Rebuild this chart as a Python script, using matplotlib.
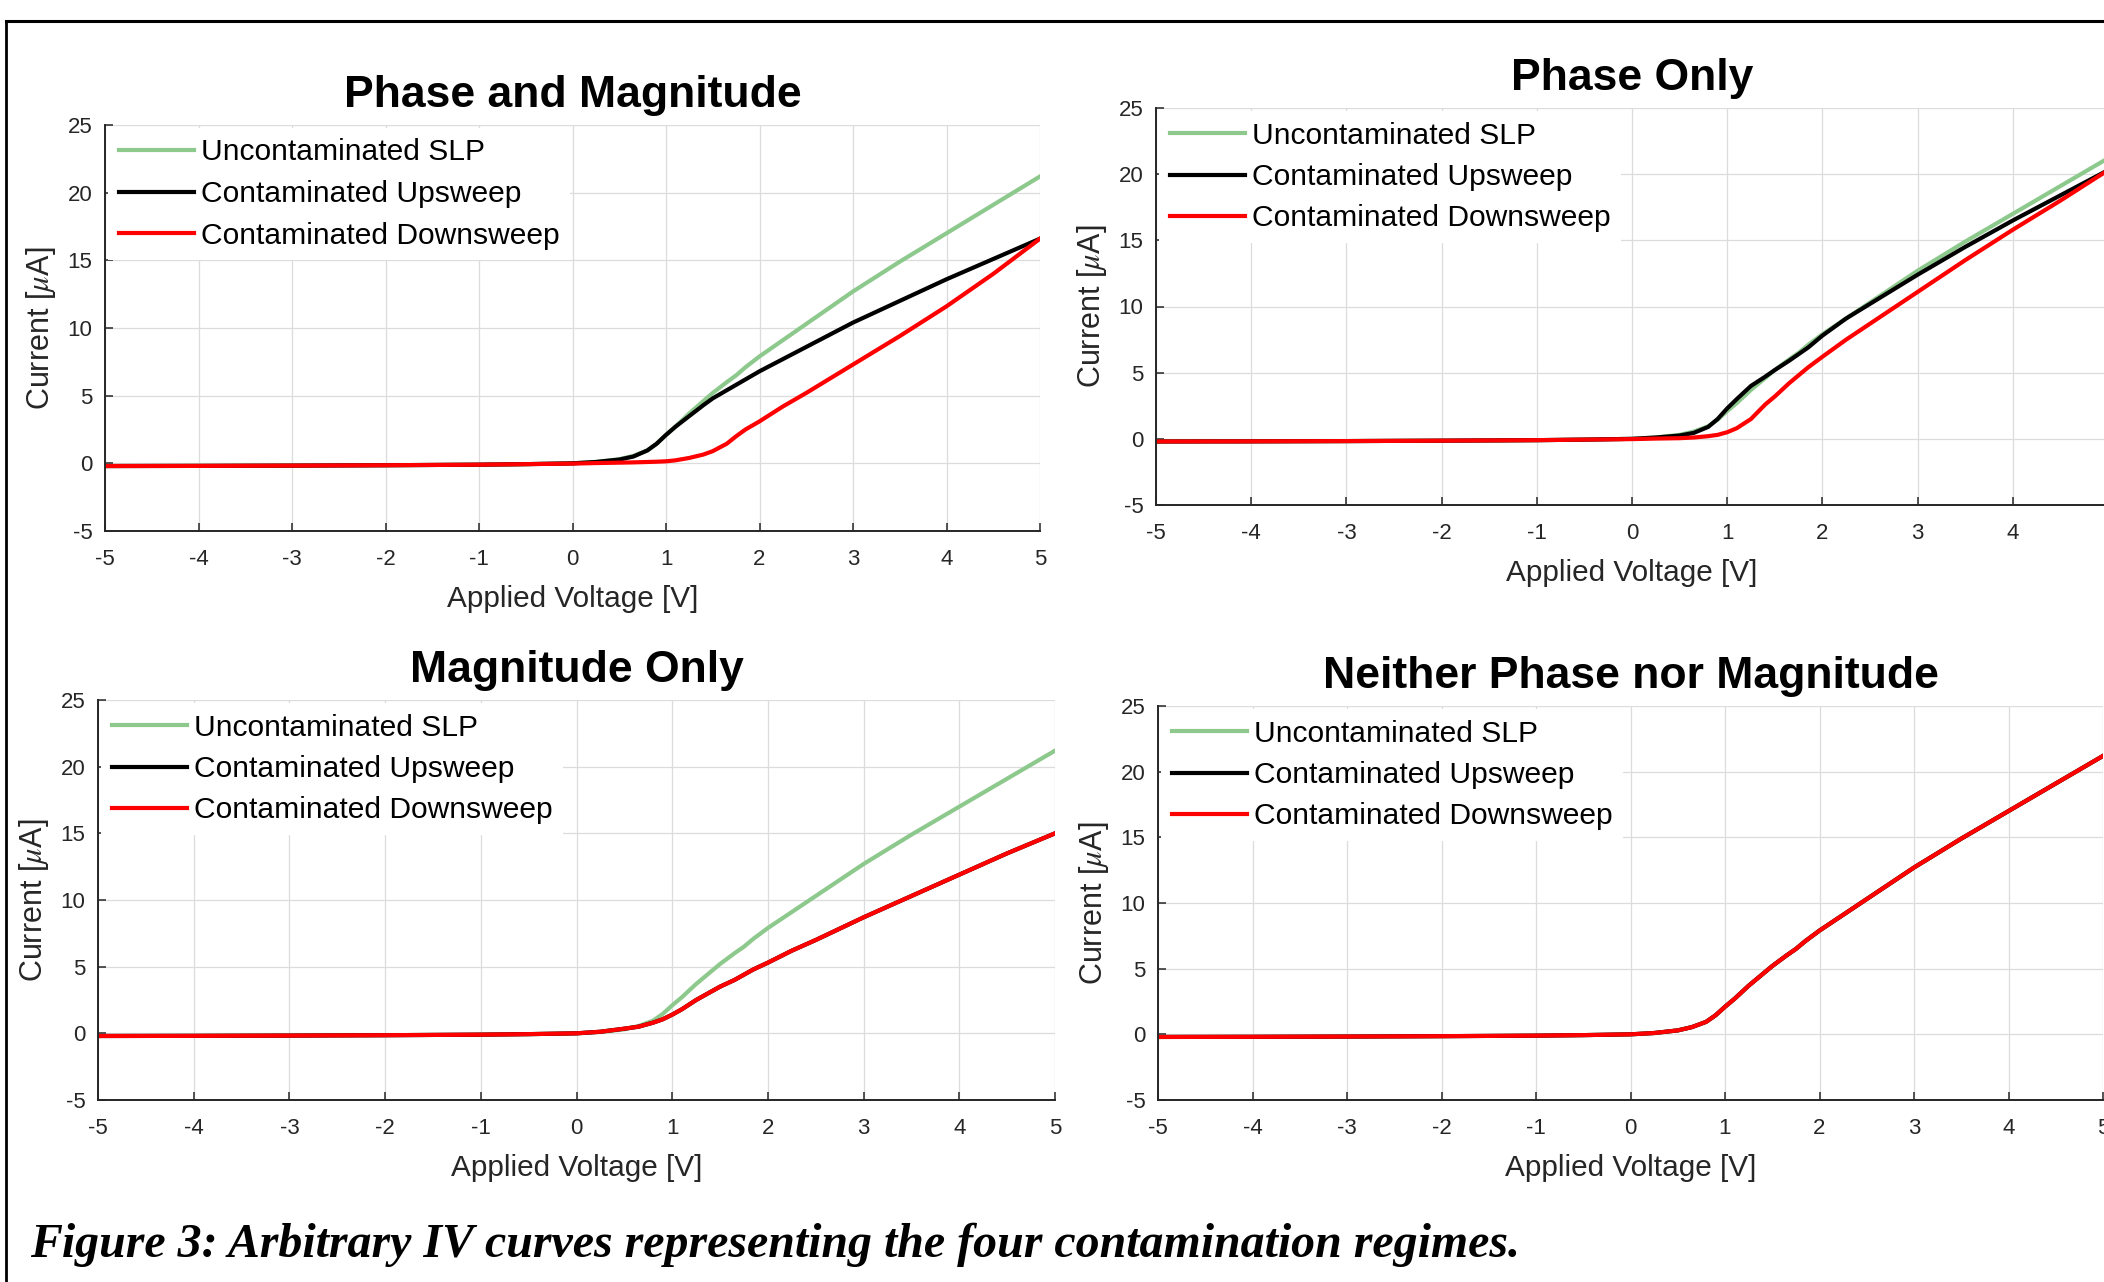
import matplotlib.pyplot as plt
from matplotlib.lines import Line2D

plt.rcParams['font.family'] = 'Liberation Sans'
plt.rcParams['mathtext.fontset'] = 'stix'
plt.rcParams['axes.unicode_minus'] = False

# applied voltage [V] -- same sweep points for every curve
volts = [-5, -4, -3, -2, -1, -0.5, 0, 0.25, 0.5, 0.65, 0.8, 0.9, 1.0, 1.1, 1.25,
         1.4, 1.5, 1.65, 1.75, 1.85, 2.0, 2.25, 2.5, 3.0, 3.5, 4.0, 4.5, 5.0]

# current [uA]
uncontaminated = [-0.2, -0.19, -0.17, -0.14, -0.1, -0.06, 0.0, 0.1, 0.3, 0.55, 0.95, 1.45, 2.1, 2.7,
                  3.7, 4.6, 5.2, 6.0, 6.5, 7.1, 7.9, 9.1, 10.3, 12.7, 14.9, 17.0, 19.1, 21.2]

# phase and magnitude
pm_up = [-0.2, -0.19, -0.17, -0.14, -0.1, -0.06, 0.0, 0.1, 0.28, 0.5, 0.95, 1.45, 2.1, 2.7,
         3.5, 4.3, 4.8, 5.4, 5.8, 6.2, 6.8, 7.7, 8.6, 10.4, 12.0, 13.6, 15.1, 16.6]
pm_down = [-0.2, -0.19, -0.17, -0.14, -0.1, -0.06, -0.02, 0.02, 0.05, 0.07, 0.1, 0.12, 0.15, 0.22,
           0.4, 0.65, 0.9, 1.45, 2.0, 2.5, 3.1, 4.2, 5.2, 7.3, 9.4, 11.6, 14.0, 16.6]

# phase only
po_up = [-0.2, -0.19, -0.17, -0.14, -0.1, -0.06, 0.0, 0.1, 0.25, 0.45, 0.9, 1.5, 2.3, 3.0,
         4.0, 4.7, 5.2, 5.9, 6.4, 6.9, 7.8, 9.1, 10.2, 12.4, 14.5, 16.5, 18.4, 20.3]
po_down = [-0.2, -0.19, -0.17, -0.14, -0.1, -0.06, -0.02, 0.02, 0.05, 0.1, 0.2, 0.3, 0.5, 0.8,
           1.5, 2.6, 3.2, 4.2, 4.8, 5.4, 6.2, 7.5, 8.7, 11.1, 13.5, 15.8, 18.0, 20.3]

# magnitude only (up and down sweeps sit on top of each other)
mo_up = [-0.2, -0.19, -0.17, -0.14, -0.1, -0.06, 0.0, 0.12, 0.35, 0.5, 0.8, 1.05, 1.4, 1.8,
         2.5, 3.1, 3.5, 4.0, 4.4, 4.8, 5.3, 6.2, 7.0, 8.7, 10.3, 11.9, 13.5, 15.0]
mo_down = [-0.2, -0.19, -0.17, -0.14, -0.1, -0.06, 0.0, 0.12, 0.35, 0.5, 0.8, 1.05, 1.4, 1.8,
           2.5, 3.1, 3.5, 4.0, 4.4, 4.8, 5.3, 6.2, 7.0, 8.7, 10.3, 11.9, 13.5, 15.0]

# neither phase nor magnitude (everything overlaps the clean curve)
np_up = [-0.2, -0.19, -0.17, -0.14, -0.1, -0.06, 0.0, 0.1, 0.3, 0.55, 0.95, 1.45, 2.1, 2.7,
         3.7, 4.6, 5.2, 6.0, 6.5, 7.1, 7.9, 9.1, 10.3, 12.7, 14.9, 17.0, 19.1, 21.2]
np_down = [-0.2, -0.19, -0.17, -0.14, -0.1, -0.06, 0.0, 0.1, 0.3, 0.55, 0.95, 1.45, 2.1, 2.7,
           3.7, 4.6, 5.2, 6.0, 6.5, 7.1, 7.9, 9.1, 10.3, 12.7, 14.9, 17.0, 19.1, 21.2]

titles = ['Phase and Magnitude', 'Phase Only', 'Magnitude Only', 'Neither Phase nor Magnitude']
legend_labels = ['Uncontaminated SLP', 'Contaminated Upsweep', 'Contaminated Downsweep']
xticks = [-5, -4, -3, -2, -1, 0, 1, 2, 3, 4, 5]
yticks = [-5, 0, 5, 10, 15, 20, 25]
caption = 'Figure 3: Arbitrary IV curves representing the four contamination regimes.'

ups = [pm_up, po_up, mo_up, np_up]
downs = [pm_down, po_down, mo_down, np_down]

W, H = 2104, 1282
# axes boxes in pixels: left, right, top, bottom
boxes = [(105, 1040, 125, 531),
         (1156, 2108, 108, 505),
         (98, 1055, 700, 1100),
         (1158, 2103, 706, 1100)]

fig = plt.figure(figsize=(W / 100, H / 100), dpi=100)
fig.patch.set_facecolor('white')

txt = '#262626'
for i in range(4):
    l, r, t, b = boxes[i]
    ax = fig.add_axes([l / W, 1 - b / H, (r - l) / W, (b - t) / H])
    ax.plot(volts, uncontaminated, color='#8dc98d', lw=3, label=legend_labels[0])
    ax.plot(volts, ups[i], color='black', lw=3, label=legend_labels[1])
    ax.plot(volts, downs[i], color='#ff0000', lw=3, label=legend_labels[2])
    ax.set_xlim(-5, 5)
    ax.set_ylim(-5, 25)
    ax.set_xticks(xticks)
    ax.set_yticks(yticks)
    ax.grid(True, color='#dcdcdc', lw=0.9)
    ax.set_axisbelow(True)
    for s in ['top', 'right']:
        ax.spines[s].set_visible(False)
    for s in ['left', 'bottom']:
        ax.spines[s].set_color(txt)
        ax.spines[s].set_linewidth(1.4)
    ax.tick_params(direction='in', length=6, width=1.1, colors=txt, labelsize=16)
    ax.tick_params(axis='x', pad=13)
    ax.tick_params(axis='y', pad=9)
    ax.set_xlabel('Applied Voltage [V]', fontsize=21.4, color=txt, labelpad=11)
    ax.set_ylabel('Current [$\\mu$A]', fontsize=22, color=txt, labelpad=7)
    ax.set_title(titles[i], fontsize=32, fontweight='bold', pad=13)
    leg = ax.legend(loc='upper left', fontsize=21.6, fancybox=False, framealpha=1,
                    borderpad=0.35, borderaxespad=0.1, handlelength=2.5,
                    handletextpad=0.25, labelspacing=0.45)
    leg.get_frame().set_linewidth(0)

# black frame around the figure (right and bottom edges fall outside the crop)
fig.add_artist(Line2D([6 / W, 6 / W], [0, 1 - 21 / H], color='black', lw=2))
fig.add_artist(Line2D([6 / W, 1], [1 - 21 / H, 1 - 21 / H], color='black', lw=2.2))

fig.text(30 / W, 1 - 1257 / H, caption, fontsize=34.5, fontweight='bold', fontstyle='italic',
         family='Liberation Serif', va='baseline')

fig.savefig('out.png', dpi=100)
